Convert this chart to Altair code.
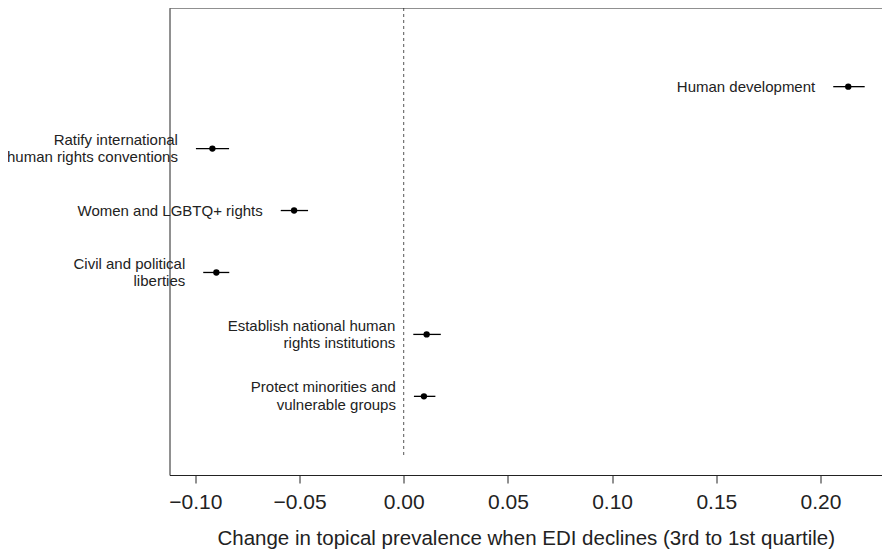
import altair as alt
import pandas as pd

topics = [
    "Human development",
    "Ratify international\nhuman rights conventions",
    "Women and LGBTQ+ rights",
    "Civil and political\nliberties",
    "Establish national human\nrights institutions",
    "Protect minorities and\nvulnerable groups",
]
estimate = [0.2133, -0.0918, -0.0526, -0.0899, 0.0110, 0.0097]
ci_low = [0.2061, -0.0997, -0.0590, -0.0962, 0.0046, 0.0049]
ci_high = [0.2212, -0.0838, -0.0459, -0.0837, 0.0178, 0.0152]
x_ticks = [-0.10, -0.05, 0.00, 0.05, 0.10, 0.15, 0.20]

df = pd.DataFrame({
    "topic": topics, "est": estimate, "lo": ci_low, "hi": ci_high,
    "rank": list(range(len(topics))),
})

W = 712.5
H = 467
FONT = "Liberation Sans"
TXT = "#222222"
LH = 17.7

xscale = alt.Scale(domain=[-0.11238, 0.2295], nice=False, zero=False)
yscale = alt.Scale(domain=[-1.27, len(topics) - 1 + 1.27], reverse=True, nice=False, zero=False)

x_axis = alt.Axis(
    values=x_ticks, format=".2f", grid=False, tickSize=8, tickColor="#222222",
    domainColor="#222222", labelFontSize=21, labelFont=FONT, labelColor=TXT,
    labelPadding=8, titleFontSize=20.5, titleFont=FONT, titleFontWeight="normal",
    titleColor=TXT, titlePadding=16, labelFlush=False,
    labelExpr="replace(datum.label, '-', '\u2212')",
)
y_axis = alt.Axis(labels=False, ticks=False, grid=False, title=None, domainColor="#222222")

base = alt.Chart(df)

zero = alt.Chart(pd.DataFrame({"z": [0.0]})).mark_rule(
    strokeDash=[3, 3], color="#555555", strokeWidth=1
).encode(
    x=alt.X("z:Q", scale=xscale, axis=x_axis,
            title="Change in topical prevalence when EDI declines (3rd to 1st quartile)"),
    y=alt.value(0), y2=alt.value(450),
)

top = alt.Chart(pd.DataFrame({"z": [0.0]})).mark_rule(color="#222222", strokeWidth=1).encode(
    x=alt.value(0), x2=alt.value(W), y=alt.value(0)
)

bars = base.mark_rule(color="black", strokeWidth=1.3).encode(
    x=alt.X("lo:Q", scale=xscale), x2="hi:Q",
    y=alt.Y("rank:Q", scale=yscale, axis=y_axis),
)

pts = base.mark_circle(color="black", size=40, opacity=1).encode(
    x=alt.X("est:Q", scale=xscale),
    y=alt.Y("rank:Q", scale=yscale),
)

text_kw = dict(align="right", baseline="middle", dx=-18, fontSize=15, font=FONT,
               color=TXT, lineBreak="\n", lineHeight=LH)
text_enc = dict(x=alt.X("lo:Q", scale=xscale), y=alt.Y("rank:Q", scale=yscale), text="topic:N")

labels1 = base.transform_filter("indexof(datum.topic, '\\n') < 0").mark_text(**text_kw).encode(**text_enc)
labels2 = base.transform_filter("indexof(datum.topic, '\\n') >= 0").mark_text(
    dy=-LH / 2, **text_kw).encode(**text_enc)

chart = alt.layer(zero, top, bars, pts, labels1, labels2).properties(
    width=W, height=H,
    autosize=alt.AutoSizeParams(type="none"),
    padding={"left": 161.5, "top": 0, "right": 0, "bottom": 74},
).configure_view(stroke=None)

chart.save("out.html", embed_options={"renderer": "svg", "actions": False})
